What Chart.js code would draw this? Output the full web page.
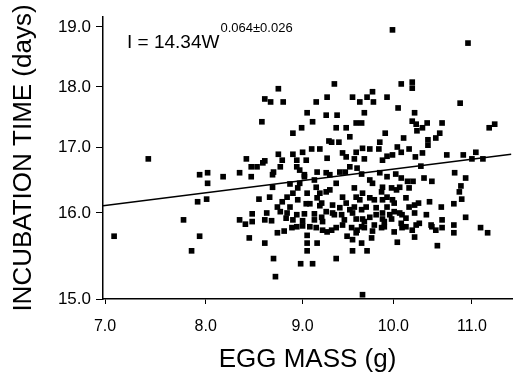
<!DOCTYPE html>
<html>
<head>
<meta charset="utf-8">
<script src="https://cdn.jsdelivr.net/npm/chart.js@4.4.1/dist/chart.umd.min.js"></script>
<style>
html, body { margin: 0; padding: 0; background: #fff; }
canvas { display: block; }
</style>
</head>
<body>
<canvas id="c" width="516" height="375"></canvas>
<script>
// ---- data ----
const eggMass = [
  7.09,7.43,7.78,7.86,7.94,7.92,8.01,7.94,8.02,8.02,
  8.18,8.35,8.47,8.42,8.55,8.35,8.41,8.48,8.48,8.63,
  8.61,8.68,8.45,8.61,8.70,8.72,8.66,
  8.75,8.61,8.67,8.80,8.58,8.99,8.90,9.05,9.00,8.75,
  8.90,8.61,8.79,8.47,8.53,8.59,8.77,8.70,8.69,8.94,
  8.94,9.04,8.97,9.02,9.10,9.19,9.11,9.15,9.27,9.26,
  9.29,9.16,9.26,9.02,
  8.69,8.87,8.95,9.13,9.15,9.19,9.26,8.84,8.90,9.05,
  9.16,9.21,8.74,8.79,8.87,8.95,9.04,9.08,9.19,8.77,
  8.84,8.94,9.02,9.13,9.21,9.26,8.83,8.90,9.00,9.13,
  9.22,8.74,8.81,8.89,8.94,9.00,9.08,9.15,9.22,9.27,
  9.05,9.16,9.05,9.05,8.98,9.11,8.97,
  9.99,10.95,9.35,10.10,10.24,10.24,9.55,9.63,9.71,9.77,
  9.78,9.93,10.06,10.85,9.38,9.68,10.27,10.24,10.29,9.59,
  9.65,10.43,10.62,11.22,11.29,9.37,9.48,9.52,9.91,10.30,
  10.37,10.54,10.59,10.44,10.44,10.13,9.85,9.32,9.40,9.44,
  9.48,9.59,9.66,9.74,9.84,9.93,10.05,10.10,10.20,10.28,
  10.37,10.68,10.89,11.05,11.14,11.00,9.27,9.88,9.68,9.57,
  9.99,
  9.52,9.60,10.35,10.78,10.92,9.30,9.41,9.47,9.65,9.74,
  9.85,9.93,10.03,10.10,10.18,10.25,10.39,10.49,9.37,9.57,
  9.77,9.88,9.98,10.08,10.86,10.84,10.87,10.77,10.61,10.46,
  9.30,9.66,10.20,9.44,9.59,9.74,9.87,9.93,9.88,9.99,
  10.16,10.20,10.27,10.32,9.33,9.48,9.57,9.65,9.70,9.81,
  9.93,10.01,10.08,10.27,10.42,10.62,10.92,9.35,9.43,9.55,
  9.59,9.66,9.74,9.81,9.88,9.98,10.16,10.10,10.33,10.48,
  10.77,10.77,11.11,11.20,9.32,9.37,9.44,9.54,9.59,9.68,
  9.77,9.87,9.90,10.01,10.11,10.24,10.27,10.05,10.54,10.56,
  10.29,9.55,9.65,9.55,9.71,9.37,9.66,10.62,10.49,9.79,
  9.63,9.33,9.88,10.11,9.65,10.16,10.04,10.01,
  9.46,9.52,9.68,9.79,9.90,9.96,9.41,9.60,9.76,9.49
];
const incubationTime = [
  15.73,16.82,15.92,15.56,15.73,16.17,16.21,16.58,16.61,16.45,
  16.55,16.61,16.55,16.82,16.21,15.92,15.87,15.90,15.99,16.00,
  15.92,15.91,15.71,15.65,15.47,15.26,16.24,
  17.97,17.80,17.75,17.75,17.42,17.32,17.23,17.57,16.92,16.89,
  16.89,16.79,16.80,16.70,16.70,16.76,16.70,16.62,16.58,16.80,
  16.70,16.80,16.65,16.58,16.97,16.97,17.42,17.75,17.83,17.53,
  17.10,16.62,16.61,16.55,
  16.39,16.44,16.38,16.50,16.39,16.30,16.32,16.24,16.30,16.30,
  16.23,16.15,16.09,16.17,16.09,16.20,16.14,16.14,16.11,16.02,
  16.00,15.98,15.99,15.99,15.95,16.02,15.94,15.92,15.91,15.92,
  15.90,15.77,15.79,15.83,15.84,15.85,15.84,15.83,15.80,15.78,
  15.74,15.65,15.65,15.56,15.41,15.41,16.45,
  18.95,18.73,18.05,18.05,18.08,17.98,17.83,17.75,17.83,17.92,
  17.75,17.83,17.65,17.73,17.53,17.57,17.57,17.43,17.38,17.40,
  17.40,17.40,17.40,17.32,17.38,17.32,17.32,17.17,17.23,17.27,
  17.32,17.15,17.23,17.12,17.03,17.15,17.08,17.08,17.08,16.91,
  16.85,16.92,16.98,16.97,16.97,16.86,17.00,16.92,16.97,16.85,
  16.91,16.88,16.88,16.92,16.82,16.82,16.83,16.80,16.82,16.82,
  16.88,
  16.70,16.68,16.71,16.61,16.53,16.58,16.62,16.62,16.59,16.50,
  16.61,16.55,16.59,16.53,16.48,16.48,16.53,16.48,16.45,16.38,
  16.45,16.39,16.38,16.39,16.41,16.32,16.21,16.14,16.09,16.17,
  16.35,16.30,16.38,16.24,16.24,16.23,16.32,16.24,16.20,16.20,
  16.23,16.09,16.12,16.15,16.12,16.15,16.09,16.05,16.09,16.08,
  16.09,16.02,16.00,16.00,15.98,15.92,15.95,15.98,15.98,16.00,
  15.93,15.93,15.95,15.98,15.93,15.93,15.94,15.88,15.88,15.86,
  15.86,15.77,15.83,15.77,15.80,15.83,15.86,15.83,15.77,15.83,
  15.79,15.83,15.84,15.78,15.83,15.80,15.72,15.66,15.80,15.62,
  15.86,15.69,15.65,15.56,15.56,15.47,15.05,15.83,15.84,16.20,
  16.20,16.00,16.00,15.98,15.84,15.84,16.35,16.15,
  15.92,16.05,15.90,15.86,15.90,15.98,16.08,15.80,15.71,15.73
];
// regression line end points (as drawn)
const fitMass = [6.98, 11.5];
const fitTime = [16.11, 16.89];
// tick labels
const xTickValues = [7, 8, 9, 10, 11];
const yTickValues = [15, 16, 17, 18, 19];
const fitLabel = 'I = 14.34W';
const fitExponent = '0.064\u00B10.026';

// the printed figure's axes are not evenly spaced: value -> fraction of axis length
const xWarp = [[7, 0.005], [8, 0.251], [9, 0.488], [10, 0.710], [11, 0.902]];
const yWarp = [[15, 0], [16, 0.305], [17, 0.539], [18, 0.752], [19, 0.965]];
const WARPS = { x: xWarp, y: yWarp };

class WarpedScale extends Chart.LinearScale {
  static id = 'warped';
  static defaults = {};
  _knots() { return this.options.warp || WARPS[this.id]; }
  getPixelForValue(value) {
    if (value === null || value === undefined || isNaN(value)) return NaN;
    const k = this._knots();
    let i = 0;
    if (value >= k[k.length - 1][0]) i = k.length - 2;
    else if (value > k[0][0]) { while (i < k.length - 2 && value > k[i + 1][0]) i++; }
    const [v0, f0] = k[i], [v1, f1] = k[i + 1];
    return this.getPixelForDecimal(f0 + (value - v0) * (f1 - f0) / (v1 - v0));
  }
  getValueForPixel(pixel) {
    const d = this.getDecimalForPixel(pixel);
    const k = this._knots();
    let i = 0;
    if (d >= k[k.length - 1][1]) i = k.length - 2;
    else if (d > k[0][1]) { while (i < k.length - 2 && d > k[i + 1][1]) i++; }
    const [v0, f0] = k[i], [v1, f1] = k[i + 1];
    return v0 + (d - f0) * (v1 - v0) / (f1 - f0);
  }
}
Chart.register(WarpedScale);

const FONT = "'Liberation Sans', Arial, Helvetica, sans-serif";

const formulaPlugin = {
  id: 'formula',
  afterDatasetsDraw(chart) {
    const { ctx, chartArea } = chart;
    ctx.save();
    ctx.fillStyle = '#000';
    ctx.textBaseline = 'alphabetic';
    ctx.textAlign = 'left';
    ctx.font = '19px ' + FONT;
    const x0 = chartArea.left + 24, y0 = chartArea.top + 31;
    ctx.fillText(fitLabel, x0, y0);
    const w = ctx.measureText(fitLabel).width;
    ctx.font = '13px ' + FONT;
    ctx.fillText(fitExponent, x0 + w + 1, y0 - 16);
    ctx.restore();
  }
};

const points = eggMass.map((x, i) => ({ x: x, y: incubationTime[i] }));
const fitLine = fitMass.map((x, i) => ({ x: x, y: fitTime[i] }));

const axisCommon = {
  border: { display: true, color: '#000', width: 1.5 },
  grid: { display: true, drawOnChartArea: false, drawTicks: true, color: '#000', lineWidth: 1 }
};

new Chart(document.getElementById('c'), {
  type: 'scatter',
  data: {
    datasets: [
      {
        type: 'scatter',
        data: points,
        pointStyle: 'rect',
        pointRadius: 4,
        pointBorderWidth: 0,
        backgroundColor: '#000',
        borderColor: '#000'
      },
      {
        type: 'line',
        data: fitLine,
        borderColor: '#000',
        borderWidth: 1.4,
        pointRadius: 0,
        fill: false,
        tension: 0
      }
    ]
  },
  options: {
    responsive: false,
    devicePixelRatio: 1,
    animation: false,
    layout: { padding: { top: 17, right: 3, left: 0, bottom: 0 } },
    plugins: { legend: { display: false }, tooltip: { enabled: false } },
    scales: {
      x: {
        type: 'warped',
        position: 'bottom',
        warp: xWarp,
        min: 6.98,
        max: 11.5,
        afterBuildTicks: s => { s.ticks = xTickValues.map(v => ({ value: v })); },
        afterFit: s => { s.height = 76; },
        border: axisCommon.border,
        grid: Object.assign({}, axisCommon.grid, { tickLength: 5 }),
        ticks: {
          callback: v => Number(v).toFixed(1),
          color: '#000',
          font: { family: FONT, size: 16 },
          padding: 13,
          maxRotation: 0,
          autoSkip: false
        },
        title: {
          display: true,
          text: 'EGG MASS (g)',
          color: '#000',
          font: { family: FONT, size: 26 },
          padding: { top: 0, bottom: 0 }
        }
      },
      y: {
        type: 'warped',
        position: 'left',
        warp: yWarp,
        min: 15,
        max: 19.17,
        afterBuildTicks: s => { s.ticks = yTickValues.map(v => ({ value: v })); },
        afterFit: s => { s.width = 103; },
        border: axisCommon.border,
        grid: Object.assign({}, axisCommon.grid, { tickLength: 7 }),
        ticks: {
          callback: v => Number(v).toFixed(1),
          color: '#000',
          font: { family: FONT, size: 17 },
          padding: 5,
          autoSkip: false
        },
        title: {
          display: true,
          text: 'INCUBATION TIME (days)',
          color: '#000',
          font: { family: FONT, size: 26 },
          padding: { top: 8, bottom: 0 }
        }
      }
    }
  },
  plugins: [formulaPlugin]
});
</script>
</body>
</html>
